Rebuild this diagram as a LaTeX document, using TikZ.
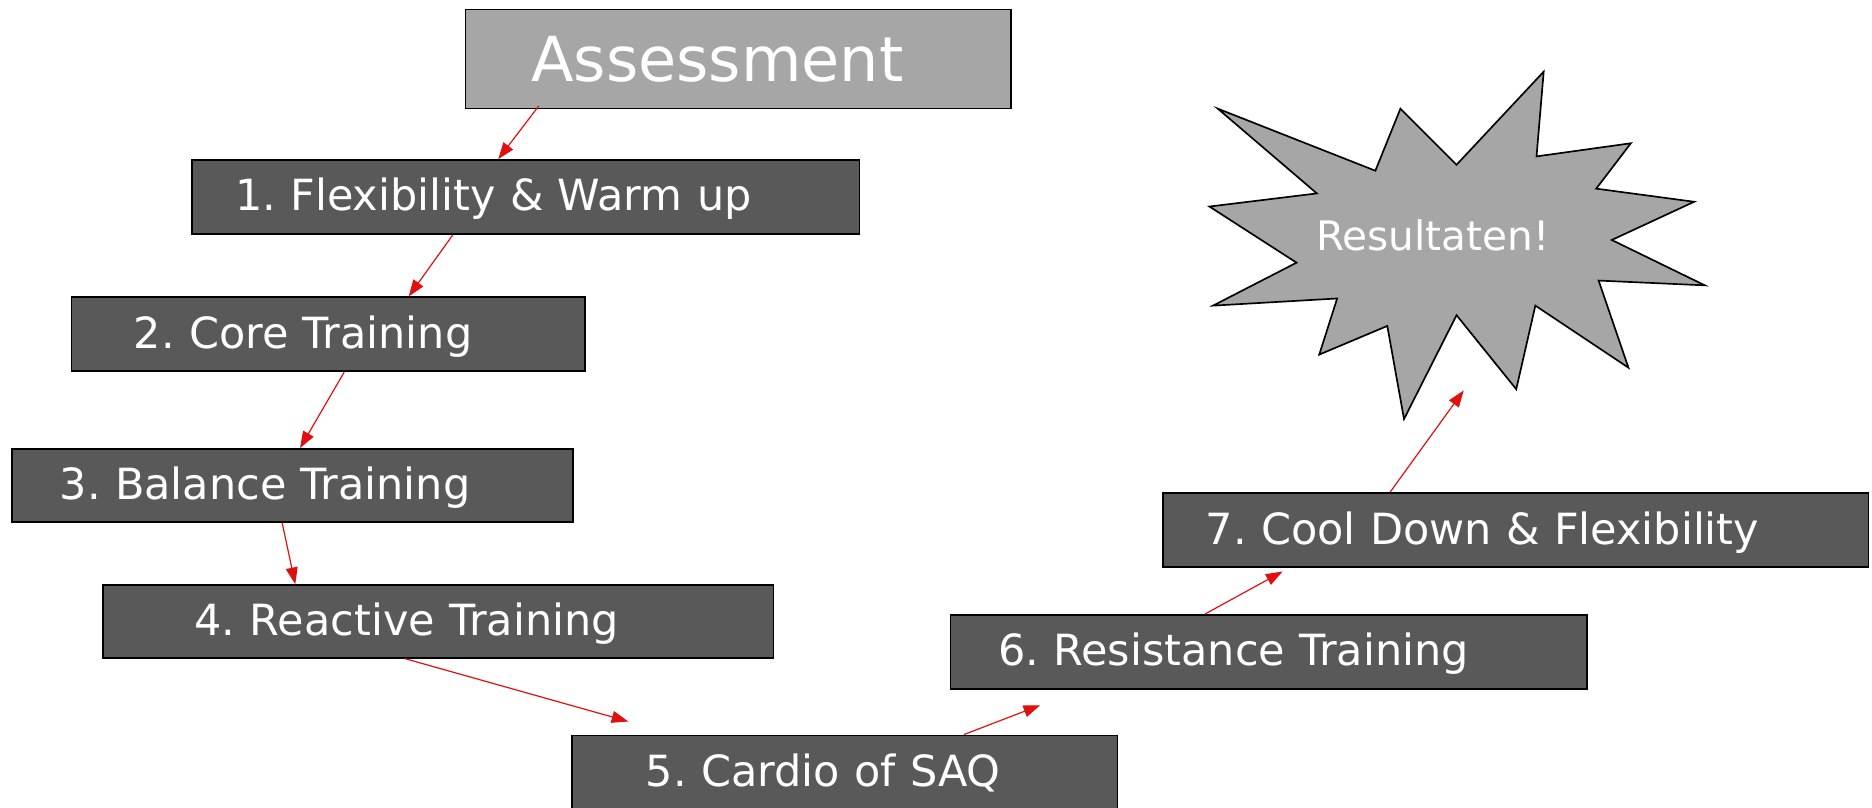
\documentclass[tikz,border=0pt]{standalone}
\usepackage{fontspec}
\setmainfont{DejaVu Sans}
\frenchspacing
\usetikzlibrary{arrows.meta}
\definecolor{boxdark}{HTML}{595959}
\definecolor{boxlight}{HTML}{A6A6A6}
\definecolor{arrowred}{HTML}{E01010}
\tikzset{
  stepbox/.style={draw=black, line width=0.7pt, fill=boxdark, text=white,
    align=left, inner ysep=0pt, minimum height=31pt,
    text height=16pt, text depth=4.3pt,
    font=\fontsize{18}{21}\selectfont\frenchspacing},
  topbox/.style={draw=black, line width=0.7pt, fill=boxlight, text=white,
    align=left, inner ysep=0pt, minimum height=41.5pt,
    font=\fontsize{26}{30}\selectfont},
  flow/.style={draw=arrowred, line width=0.5pt,
    -{Triangle[length=7pt,width=5pt]}, arrowred},
}
\begin{document}
\begin{tikzpicture}[x=0.5pt,y=-0.5pt]
\useasboundingbox (0,0) rectangle (1568,676);
\fill[white] (0,0) rectangle (1568,676);
% starburst
\draw[fill=boxlight, draw=black, line width=0.7pt, line join=miter]
  (1020,91) -- (1152,143) -- (1173,91) -- (1220,138) -- (1293,60) -- (1287,131)
  -- (1366,120) -- (1337,158) -- (1419,169) -- (1350,201) -- (1428,239)
  -- (1339,235) -- (1364,308) -- (1286,256) -- (1270,326) -- (1220,264)
  -- (1176,351) -- (1162,273) -- (1105,297) -- (1120,250) -- (1016,256)
  -- (1086,220) -- (1013,173) -- (1103,162) -- cycle;
\node[text=white, font=\fontsize{17}{20}\selectfont] (res) at (1200,197) {Resultaten!};
\coordinate (starend) at (1226,327);
% boxes
\node[topbox, text width=173.5pt, inner xsep=27.5pt] (A) at (618.5,49.5) {Assessment};
\node[stepbox, text width=243.5pt, inner xsep=18pt] (b1) at (440.5,165) {1. Flexibility \& Warm up};
\node[stepbox, text width=163pt, inner xsep=26pt] (b2) at (275,280) {2. Core Training};
\node[stepbox, text width=195pt, inner xsep=20pt, minimum height=30.5pt] (b3) at (245,406.5) {3. Balance Training};
\node[stepbox, text width=204pt, inner xsep=38.5pt, minimum height=30.5pt] (b4) at (367,520.5) {4. Reactive Training};
\node[stepbox, text width=166.5pt, inner xsep=31pt] (b5) at (707.5,647) {5. Cardio of SAQ};
\node[stepbox, text width=226.5pt, inner xsep=20pt] (b6) at (1062.5,546) {6. Resistance Training};
\node[stepbox, text width=259.5pt, inner xsep=18pt] (b7) at (1269.5,444) {7. Cool Down \& Flexibility};
% connectors
\draw[flow] ([xshift=31pt,yshift=1.5pt]A.south west) -- ([xshift=128.5pt]b1.north west);
\draw[flow] ([xshift=109.5pt]b1.south west) -- ([xshift=141.5pt]b2.north west);
\draw[flow] ([xshift=114.5pt]b2.south west) -- ([xshift=121pt]b3.north west);
\draw[flow] ([xshift=113.5pt]b3.south west) -- ([xshift=81pt]b4.north west);
\draw[flow] ([xshift=127pt]b4.south west) -- ([xshift=24pt,yshift=5.5pt]b5.north west);
\draw[flow] ([xshift=164.5pt]b5.north west) -- ([xshift=38pt,yshift=-6.5pt]b6.south west);
\draw[flow] ([xshift=107pt]b6.north west) -- ([xshift=50.5pt,yshift=-1.5pt]b7.south west);
\draw[flow] ([xshift=95.5pt]b7.north west) -- (starend);
\end{tikzpicture}
\end{document}
